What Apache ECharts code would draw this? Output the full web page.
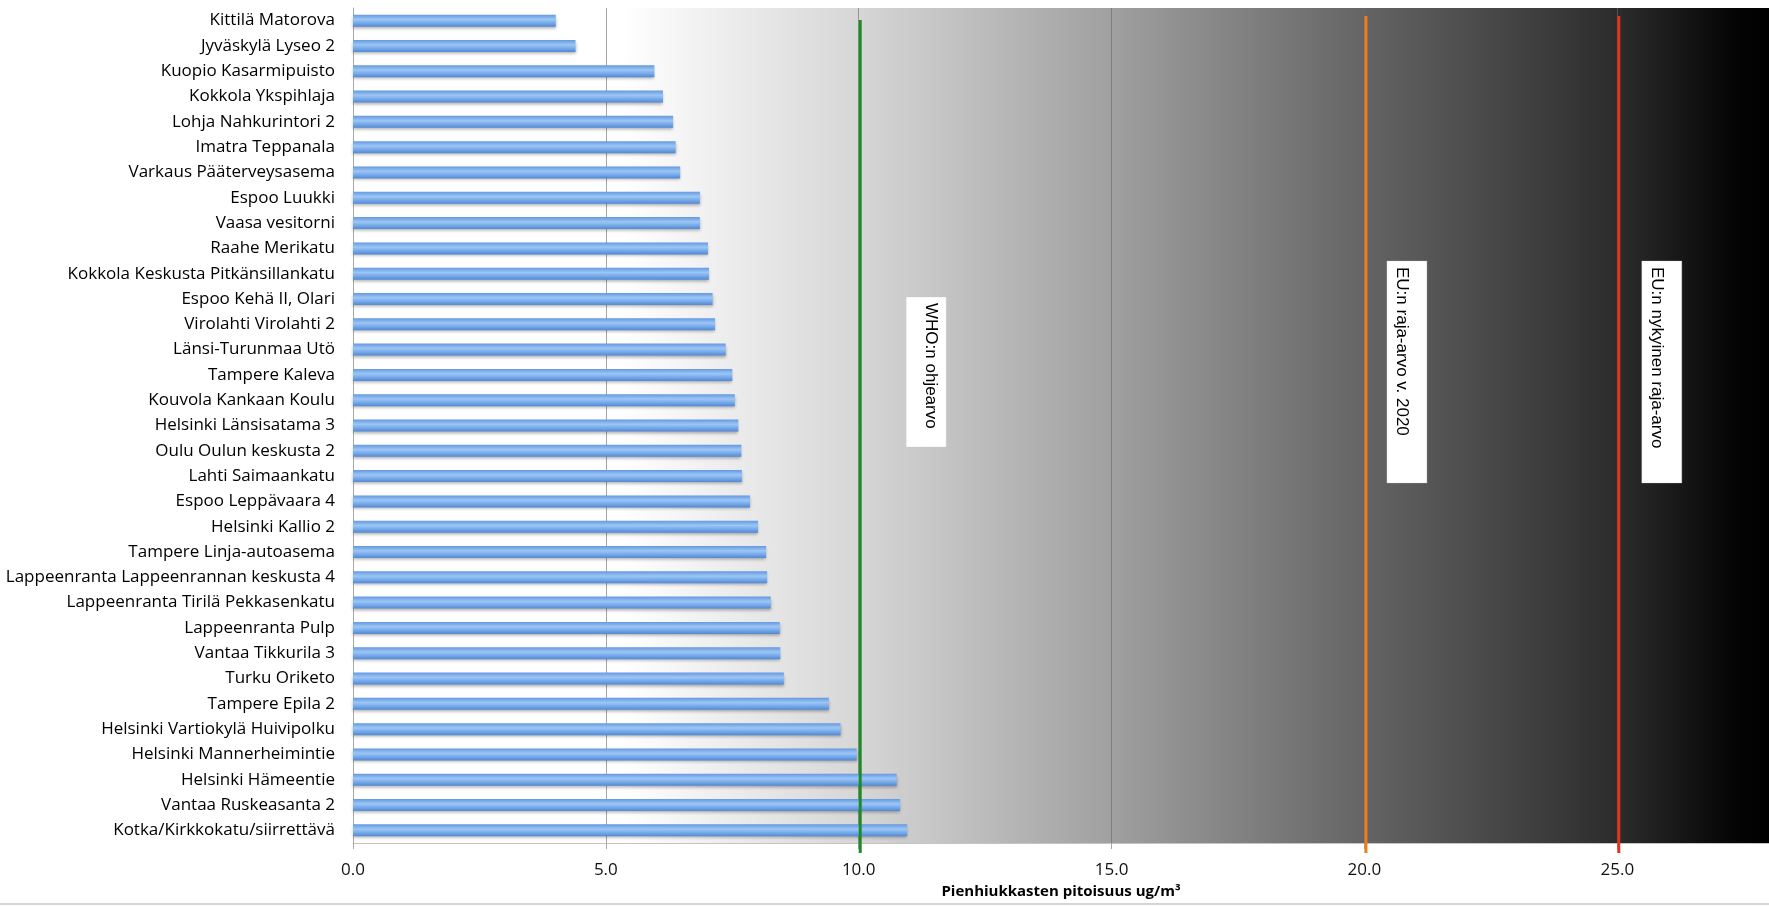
<!DOCTYPE html>
<html>
<head>
<meta charset="utf-8">
<script src="https://cdn.jsdelivr.net/npm/echarts@6/dist/echarts.min.js"></script>
<style>
  html, body { margin: 0; padding: 0; background: #ffffff; }
  #chart { width: 1769px; height: 906px; }
</style>
</head>
<body>
<div id="chart"></div>
<script>
// ---- data ----
const stations = [
  'Kittilä Matorova',
  'Jyväskylä Lyseo 2',
  'Kuopio Kasarmipuisto',
  'Kokkola Ykspihlaja',
  'Lohja Nahkurintori 2',
  'Imatra Teppanala',
  'Varkaus Pääterveysasema',
  'Espoo Luukki',
  'Vaasa vesitorni',
  'Raahe Merikatu',
  'Kokkola Keskusta Pitkänsillankatu',
  'Espoo Kehä II, Olari',
  'Virolahti Virolahti 2',
  'Länsi-Turunmaa Utö',
  'Tampere Kaleva',
  'Kouvola Kankaan Koulu',
  'Helsinki Länsisatama 3',
  'Oulu Oulun keskusta 2',
  'Lahti Saimaankatu',
  'Espoo Leppävaara 4',
  'Helsinki Kallio 2',
  'Tampere Linja-autoasema',
  'Lappeenranta Lappeenrannan keskusta 4',
  'Lappeenranta Tirilä Pekkasenkatu',
  'Lappeenranta Pulp',
  'Vantaa Tikkurila 3',
  'Turku Oriketo',
  'Tampere Epila 2',
  'Helsinki Vartiokylä Huivipolku',
  'Helsinki Mannerheimintie',
  'Helsinki Hämeentie',
  'Vantaa Ruskeasanta 2',
  'Kotka/Kirkkokatu/siirrettävä'
];
const pm25 = [
  4.01, 4.40, 5.96, 6.13, 6.33, 6.38, 6.47, 6.86, 6.86, 7.02, 7.04,
  7.11, 7.16, 7.37, 7.50, 7.55, 7.62, 7.68, 7.69, 7.85, 8.01, 8.17,
  8.19, 8.26, 8.44, 8.45, 8.52, 9.41, 9.64, 9.96, 10.75, 10.82, 10.96
];
const thresholdValues = [10, 20, 25];
const thresholdNames = ['WHO:n ohjearvo', 'EU:n raja-arvo v. 2020', 'EU:n nykyinen raja-arvo'];
const xAxisName = 'Pienhiukkasten pitoisuus ug/m³';

// ---- styles (not data) ----
const thresholdColors = ['#1f8a24', '#ee7d1c', '#e2331d'];
const lineTopGap = [12, 8, 8];
// label box geometry relative to the line: [offsetX, width, textCenterFromBoxLeft, top, height]
const boxGeom = [
  [46, 40, 24, 297, 150],
  [21, 40, 15, 261, 222],
  [23, 40, 15, 261, 222]
];

const chart = echarts.init(document.getElementById('chart'), null, { renderer: 'canvas' });

function renderThreshold(params, api) {
  const i = params.dataIndex;
  const cs = params.coordSys;
  const x = api.coord([api.value(0), 0])[0] + 1.5;
  const g = boxGeom[i];
  const bx = x + g[0];
  return {
    type: 'group',
    children: [
      {
        type: 'line',
        shape: { x1: x, y1: cs.y + lineTopGap[i], x2: x, y2: cs.y + cs.height + 10 },
        style: { stroke: thresholdColors[i], lineWidth: 3 }
      },
      {
        type: 'rect',
        shape: { x: bx, y: g[3], width: g[1], height: g[4] },
        style: { fill: '#ffffff', stroke: 'rgba(200,200,200,0.6)', lineWidth: 0.5 }
      },
      {
        type: 'text',
        x: bx + g[2],
        y: g[3] + 6,
        rotation: -Math.PI / 2,
        style: {
          text: thresholdNames[i],
          fill: '#000000',
          font: '17px "Liberation Sans", Arial, sans-serif',
          align: 'left',
          verticalAlign: 'middle'
        }
      }
    ]
  };
}

const option = {
  animation: false,
  backgroundColor: '#ffffff',
  grid: {
    left: 353,
    top: 8,
    width: 1419,
    height: 835,
    show: true,
    borderWidth: 0,
    backgroundColor: new echarts.graphic.LinearGradient(0, 0, 1, 0, [
      { offset: 0, color: '#ffffff' },
      { offset: 0.19, color: '#ffffff' },
      { offset: 0.358, color: '#d6d6d6' },
      { offset: 0.536, color: '#a0a0a0' },
      { offset: 0.715, color: '#646464' },
      { offset: 0.893, color: '#2c2c2c' },
      { offset: 0.975, color: '#050505' },
      { offset: 1, color: '#000000' }
    ])
  },
  xAxis: {
    type: 'value',
    min: 0,
    max: 28,
    interval: 5,
    name: xAxisName,
    nameLocation: 'middle',
    nameGap: 37,
    nameTextStyle: {
      fontFamily: 'Open Sans',
      fontSize: 15,
      fontWeight: 'bold',
      color: '#000000'
    },
    axisLine: { show: true, lineStyle: { color: '#c4c4c4', width: 1 } },
    axisTick: { show: true, length: 6, lineStyle: { color: '#a8a8a8' } },
    axisLabel: {
      margin: 19,
      fontFamily: 'Open Sans',
      fontSize: 17,
      color: '#111111',
      showMaxLabel: false,
      formatter: function (v) { return v.toFixed(1); }
    },
    splitLine: { show: true, lineStyle: { color: 'rgba(100,105,115,0.6)', width: 1 } }
  },
  yAxis: {
    type: 'category',
    data: stations,
    inverse: true,
    axisLine: { show: true, lineStyle: { color: '#a8a8a8', width: 1 } },
    axisTick: { show: false },
    axisLabel: {
      margin: 18,
      fontFamily: 'Open Sans',
      fontSize: 17,
      color: '#000000'
    },
    splitLine: { show: false }
  },
  series: [
    {
      type: 'bar',
      data: pm25,
      barWidth: 12,
      itemStyle: {
        color: new echarts.graphic.LinearGradient(0, 0, 0, 1, [
          { offset: 0, color: '#6499e2' },
          { offset: 0.4, color: '#9cc6f4' },
          { offset: 0.65, color: '#7caeec' },
          { offset: 1, color: '#5289d5' }
        ]),
        shadowColor: 'rgba(0,0,0,0.3)',
        shadowBlur: 3,
        shadowOffsetY: 2
      },
      z: 2
    },
    {
      type: 'custom',
      clip: false,
      z: 5,
      data: thresholdValues.map(function (v) { return [v, 0]; }),
      encode: { x: 0, y: 1 },
      renderItem: renderThreshold
    }
  ],
  graphic: [
    {
      type: 'rect',
      shape: { x: 0, y: 903, width: 1769, height: 2 },
      style: { fill: '#d4d4d4' },
      silent: true
    }
  ]
};

chart.setOption(option);
</script>
</body>
</html>
